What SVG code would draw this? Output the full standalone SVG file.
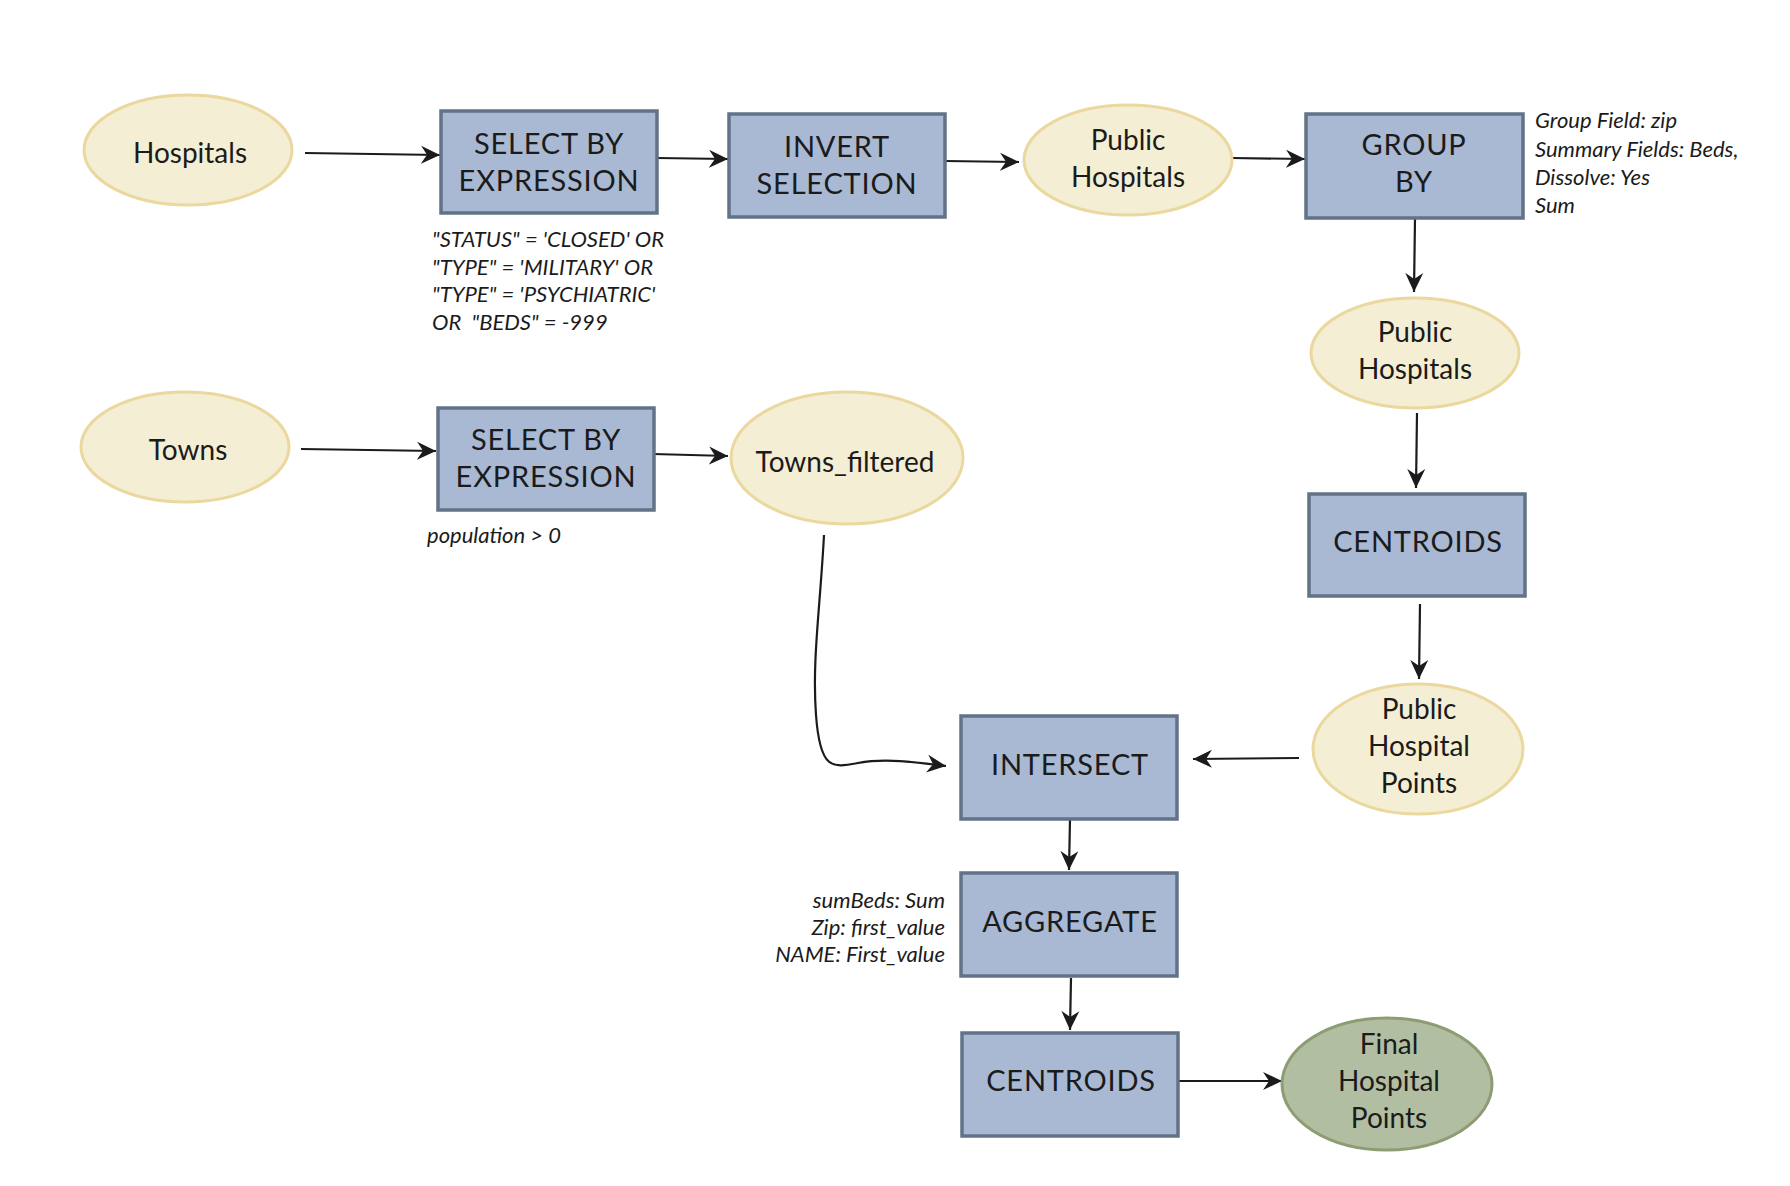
<svg xmlns="http://www.w3.org/2000/svg" width="1790" height="1186" viewBox="0 0 1790 1186">
  <style>
    .data ellipse { fill: #f4eed4; stroke: #ead89e; stroke-width: 3; }
    .final ellipse { fill: #b1bea1; stroke: #8e9c74; stroke-width: 3; }
    .tool rect { fill: #a9b9d4; stroke: #627387; stroke-width: 3.5; }
    .lbl { font-family: Lato, "Noto Sans", "DejaVu Sans", sans-serif; font-size: 28px; fill: #1b1b1b; text-anchor: middle; }
    .tool .lbl { font-size: 29px; letter-spacing: 0.8px; }
    .note { font-family: Lato, "Noto Sans", "DejaVu Sans", sans-serif; font-style: italic; font-size: 22px; fill: #1b1b1b; }
    .edge { fill: none; stroke: #1b1b1b; stroke-width: 2.2; marker-end: url(#arrow); }
  </style>
  <defs>
    <marker id="arrow" markerUnits="userSpaceOnUse" markerWidth="20" markerHeight="20" viewBox="0 0 20 20" refX="19" refY="10" orient="auto">
      <path d="M0,1 L19,10 L0,19 L6,10 z" fill="#1b1b1b"/>
    </marker>
  </defs>
  <rect width="1790" height="1186" fill="#ffffff"/>

  <!-- connectors -->
  <g id="connectors">
    <path class="edge" d="M305,153 L440,155"/>
    <path class="edge" d="M657,158 L728,159"/>
    <path class="edge" d="M945,161 L1019,162"/>
    <path class="edge" d="M1232,158 L1305,159"/>
    <path class="edge" d="M1415,218 L1414,292"/>
    <path class="edge" d="M1417,413 L1416,488"/>
    <path class="edge" d="M1420,604 L1419,679"/>
    <path class="edge" d="M1299,758 L1193,759"/>
    <path class="edge" d="M1070,819 L1069,870"/>
    <path class="edge" d="M1071,978 L1070,1030"/>
    <path class="edge" d="M1178,1081 L1282,1081"/>
    <path class="edge" d="M301,449 L436,451"/>
    <path class="edge" d="M653,454 L728,456"/>
    <path class="edge" d="M824,535 C820,610 812,660 816,715 C820,770 832,768 858,763 C885,758 915,762 946,766"/>
  </g>

  <!-- data layers -->
  <g id="hospitals" class="data">
    <ellipse cx="188" cy="150" rx="104" ry="55"/>
    <text class="lbl" x="190" y="163">Hospitals</text>
  </g>
  <g id="public-hospitals-1" class="data">
    <ellipse cx="1128" cy="160" rx="104" ry="55"/>
    <text class="lbl" x="1128" y="150">Public</text>
    <text class="lbl" x="1128" y="187">Hospitals</text>
  </g>
  <g id="public-hospitals-2" class="data">
    <ellipse cx="1415" cy="353" rx="104" ry="55"/>
    <text class="lbl" x="1415" y="342">Public</text>
    <text class="lbl" x="1415" y="379">Hospitals</text>
  </g>
  <g id="public-hospital-points" class="data">
    <ellipse cx="1418" cy="749" rx="105" ry="65"/>
    <text class="lbl" x="1419" y="719">Public</text>
    <text class="lbl" x="1419" y="756">Hospital</text>
    <text class="lbl" x="1419" y="793">Points</text>
  </g>
  <g id="towns" class="data">
    <ellipse cx="185" cy="447" rx="104" ry="55"/>
    <text class="lbl" x="188" y="460">Towns</text>
  </g>
  <g id="towns-filtered" class="data">
    <ellipse cx="847" cy="458" rx="116" ry="66"/>
    <text class="lbl" x="845" y="472">Towns_filtered</text>
  </g>
  <g id="final-hospital-points" class="final">
    <ellipse cx="1387" cy="1084" rx="105" ry="66"/>
    <text class="lbl" x="1389" y="1054">Final</text>
    <text class="lbl" x="1389" y="1091">Hospital</text>
    <text class="lbl" x="1389" y="1128">Points</text>
  </g>

  <!-- geoprocessing tools -->
  <g id="select-hospitals" class="tool">
    <rect x="441" y="111" width="216" height="102"/>
    <text class="lbl" x="549" y="154">SELECT BY</text>
    <text class="lbl" x="549" y="191">EXPRESSION</text>
    <text class="note" x="432" y="247">"STATUS" = 'CLOSED' OR</text>
    <text class="note" x="432" y="275">"TYPE" = 'MILITARY' OR</text>
    <text class="note" x="432" y="302">"TYPE" = 'PSYCHIATRIC'</text>
    <text class="note" x="432" y="330" xml:space="preserve">OR  "BEDS" = -999</text>
  </g>
  <g id="invert-selection" class="tool">
    <rect x="729" y="114" width="216" height="103"/>
    <text class="lbl" x="837" y="157">INVERT</text>
    <text class="lbl" x="837" y="194">SELECTION</text>
  </g>
  <g id="group-by" class="tool">
    <rect x="1306" y="114" width="217" height="104"/>
    <text class="lbl" x="1414" y="155">GROUP</text>
    <text class="lbl" x="1414" y="192">BY</text>
    <text class="note" x="1535" y="128">Group Field: zip</text>
    <text class="note" x="1535" y="157">Summary Fields: Beds,</text>
    <text class="note" x="1535" y="185">Dissolve: Yes</text>
    <text class="note" x="1535" y="213">Sum</text>
  </g>
  <g id="centroids-1" class="tool">
    <rect x="1309" y="494" width="216" height="102"/>
    <text class="lbl" x="1418" y="552">CENTROIDS</text>
  </g>
  <g id="select-towns" class="tool">
    <rect x="438" y="408" width="216" height="102"/>
    <text class="lbl" x="546" y="450">SELECT BY</text>
    <text class="lbl" x="546" y="487">EXPRESSION</text>
    <text class="note" x="427" y="543">population &gt; 0</text>
  </g>
  <g id="intersect" class="tool">
    <rect x="961" y="716" width="216" height="103"/>
    <text class="lbl" x="1070" y="775">INTERSECT</text>
  </g>
  <g id="aggregate" class="tool">
    <rect x="961" y="873" width="216" height="103"/>
    <text class="lbl" x="1070" y="932">AGGREGATE</text>
    <text class="note" x="945" y="908" text-anchor="end">sumBeds: Sum</text>
    <text class="note" x="945" y="935" text-anchor="end">Zip: first_value</text>
    <text class="note" x="945" y="962" text-anchor="end">NAME: First_value</text>
  </g>
  <g id="centroids-2" class="tool">
    <rect x="962" y="1033" width="216" height="103"/>
    <text class="lbl" x="1071" y="1091">CENTROIDS</text>
  </g>
</svg>
